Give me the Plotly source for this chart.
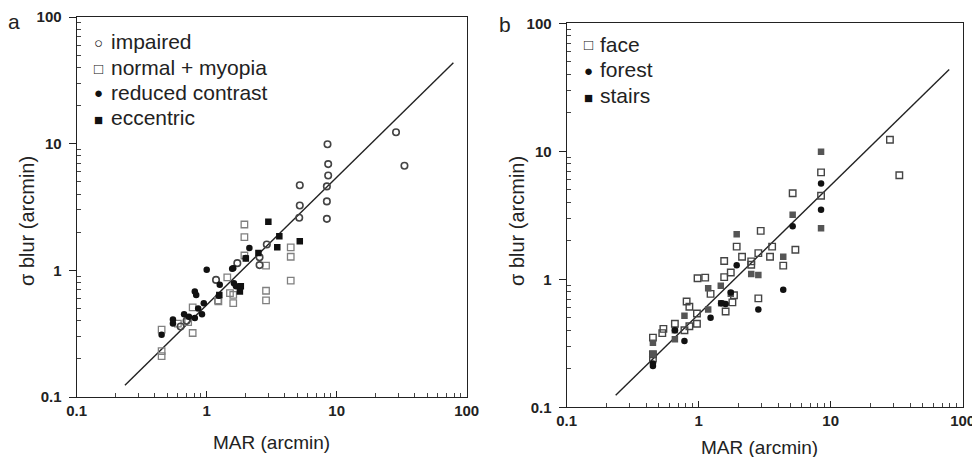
import plotly.graph_objects as go

# ---------------- data ----------------
# Panel a
impaired_x = [28.6, 33.2, 8.5, 8.6, 8.6, 8.4, 8.4, 8.4, 5.2, 5.2, 5.15, 2.9, 2.55, 2.55, 1.72, 1.18, 0.63, 0.70]
impaired_y = [12.3, 6.7, 9.9, 6.9, 5.6, 4.6, 3.5, 2.55, 4.7, 3.25, 2.6, 1.6, 1.27, 1.1, 1.14, 0.84, 0.36, 0.40]

normal_x = [1.95, 1.95, 1.95, 2.86, 2.86, 2.86, 4.43, 4.43, 4.43, 1.44, 1.51, 1.6, 1.23, 1.6, 0.78, 0.78, 0.45, 0.45, 0.45, 0.72, 0.6, 1.22]
normal_y = [2.3, 1.83, 1.31, 1.09, 0.69, 0.58, 1.52, 1.28, 0.83, 0.88, 0.66, 0.55, 0.57, 0.64, 0.51, 0.32, 0.34, 0.21, 0.23, 0.39, 0.38, 0.58]

reduced_x = [1.0, 2.13, 2.0, 1.6, 1.57, 1.26, 1.24, 0.81, 0.83, 0.95, 0.86, 0.92, 0.81, 0.67, 0.55, 0.55, 0.45, 1.62, 1.68, 0.73]
reduced_y = [1.01, 1.5, 1.25, 1.04, 1.03, 0.77, 0.63, 0.68, 0.64, 0.55, 0.50, 0.45, 0.42, 0.45, 0.41, 0.38, 0.31, 0.79, 0.75, 0.43]

eccentric_x = [2.98, 3.62, 3.49, 5.2, 2.5, 2.0, 1.83, 1.8, 1.25]
eccentric_y = [2.42, 1.86, 1.52, 1.70, 1.37, 1.24, 0.75, 0.68, 0.64]

# Panel b
face_x = [28.1, 33.1, 8.45, 8.45, 5.15, 5.4, 4.37, 3.47, 3.6, 2.95, 2.83, 2.83, 2.5, 2.5, 1.94, 2.13, 1.56, 1.56,
          1.75, 0.98, 1.12, 1.23, 1.6, 1.8, 1.85, 0.81, 0.85, 0.97, 0.97, 0.85, 0.66, 0.54, 0.53, 0.45, 0.78, 0.45, 0.45]
face_y = [12.3, 6.5, 6.85, 4.5, 4.7, 1.7, 1.28, 1.5, 1.8, 2.39, 1.6, 0.71, 1.38, 1.3, 1.8, 1.5, 1.39, 1.04,
          1.13, 1.02, 1.03, 0.77, 0.56, 0.66, 0.75, 0.67, 0.61, 0.54, 0.45, 0.43, 0.45, 0.41, 0.38, 0.35, 0.40, 0.26, 0.24]

forest_x = [8.45, 8.45, 5.15, 4.37, 2.83, 1.94, 1.6, 1.48, 1.75, 1.23, 0.78, 0.45, 0.45, 0.66]
forest_y = [5.6, 3.5, 2.6, 0.83, 0.58, 1.29, 0.64, 0.65, 0.79, 0.50, 0.33, 0.21, 0.22, 0.40]

stairs_x = [8.45, 8.45, 5.15, 4.37, 2.83, 2.5, 1.94, 1.47, 1.18, 1.48, 1.18, 0.78, 0.66, 0.66, 0.45, 0.45, 1.75]
stairs_y = [9.9, 2.5, 3.2, 1.5, 1.08, 1.1, 2.25, 0.89, 0.85, 0.65, 0.58, 0.52, 0.40, 0.34, 0.32, 0.26, 0.77]

# fitted line (end points)
fit_x = [0.235, 79.0]
fit_y = [0.124, 43.5]

tick_vals = [0.1, 1, 10, 100]
tick_text = ["0.1", "1", "10", "100"]
minor_vals = [m * d for d in (0.1, 1, 10) for m in range(2, 10)]

# The page body has an 8 px margin, so the figure starts at (8, 8) in the window.
OFF = 8
W, H = 980 - OFF, 457 - OFF
FONT = "Liberation Sans, Arial, sans-serif"

def px(x):
    return (x - OFF) / W

def py(y):
    return 1 - (y - OFF) / H

fig = go.Figure()

def add(x, y, xa, ya, symbol, color, line_color, size=6, lw=1.3):
    fig.add_trace(go.Scatter(x=x, y=y, xaxis=xa, yaxis=ya, mode="markers", showlegend=False,
                             marker=dict(symbol=symbol, size=size, color=color,
                                         line=dict(color=line_color, width=lw))))

# panel a
fig.add_trace(go.Scatter(x=fit_x, y=fit_y, xaxis="x", yaxis="y", mode="lines", showlegend=False,
                         line=dict(color="#222", width=1.4)))
add(normal_x, normal_y, "x", "y", "square-open", "#808080", "#808080", size=6.5, lw=1.3)
add(impaired_x, impaired_y, "x", "y", "circle-open", "#444", "#444", size=6.5, lw=1.6)
add(reduced_x, reduced_y, "x", "y", "circle", "#111", "#111", size=6.5, lw=0)
add(eccentric_x, eccentric_y, "x", "y", "square", "#111", "#111", size=6.5, lw=0)

# panel b
fig.add_trace(go.Scatter(x=fit_x, y=fit_y, xaxis="x2", yaxis="y2", mode="lines", showlegend=False,
                         line=dict(color="#222", width=1.4)))
add(face_x, face_y, "x2", "y2", "square-open", "#444", "#444", size=6.5, lw=1.4)
add(stairs_x, stairs_y, "x2", "y2", "square", "#555", "#555", size=6.5, lw=0)
add(forest_x, forest_y, "x2", "y2", "circle", "#111", "#111", size=6.5, lw=0)

def axis(lo, hi, anchor, horizontal):
    if horizontal:
        dom = [px(lo), px(hi)]
        major = dict(ticks="inside", ticklen=6)
    else:
        dom = [py(hi), py(lo)]
        major = dict(ticks="outside", ticklen=7, ticklabelstandoff=4)
    return dict(type="log", range=[-1, 2], domain=dom, anchor=anchor, automargin=False,
                tickvals=tick_vals, ticktext=tick_text, tickcolor="#222", **major,
                minor=dict(tickvals=minor_vals, ticks="inside", ticklen=4, tickcolor="#444"),
                showline=True, linecolor="#222", linewidth=1.2, mirror=True,
                showgrid=False, zeroline=False,
                tickfont=dict(family=FONT, size=15, color="#222", weight="bold"))

annotations = []

def txt(x, y, s, size, xanchor="left", angle=0, color="#222"):
    annotations.append(dict(xref="paper", yref="paper", x=px(x), y=py(y), text=s, showarrow=False,
                            xanchor=xanchor, yanchor="middle", textangle=angle,
                            font=dict(family=FONT, size=size, color=color)))

# panel labels
txt(14, 21, "a", 21, "center")
txt(505, 24, "b", 21, "center")

# axis titles
txt(271, 442, "MAR (arcmin)", 19, "center")
txt(759, 447, "MAR (arcmin)", 19, "center")
txt(27, 221, "σ blur (arcmin)", 20, "center", angle=-90)
txt(517, 221, "σ blur (arcmin)", 20, "center", angle=-90)

# legends (symbol glyph + label)
leg_a = [("○", "impaired", 42), ("□", "normal + myopia", 67), ("●", "reduced contrast", 92), ("■", "eccentric", 118)]
for sym, label, y in leg_a:
    txt(98, y + 1, sym, 15, "center", color="#111")
    txt(109, y, label, 21, "left")
leg_b = [("□", "face", 44), ("●", "forest", 70), ("■", "stairs", 96)]
for sym, label, y in leg_b:
    txt(588, y + 1, sym, 15, "center", color="#111")
    txt(598, y, label, 21, "left")

fig.update_layout(
    width=W, height=H, margin=dict(l=0, r=0, t=0, b=0, autoexpand=False),
    paper_bgcolor="white", plot_bgcolor="white",
    xaxis=axis(76.7, 466.7, "y", True), yaxis=axis(17, 397, "x", False),
    xaxis2=axis(566.7, 962.7, "y2", True), yaxis2=axis(23.3, 407.3, "x2", False),
    annotations=annotations, showlegend=False,
)

fig.write_html("out.html")
